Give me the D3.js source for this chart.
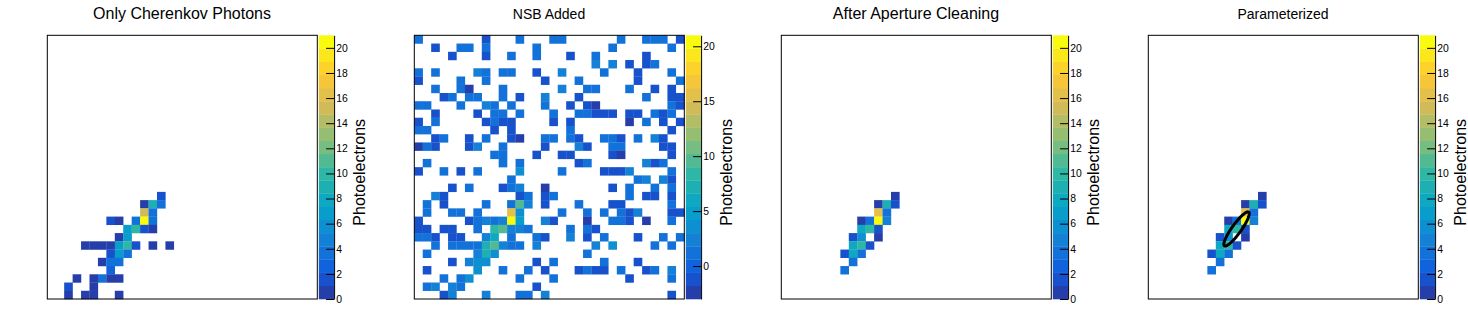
<!DOCTYPE html>
<html><head><meta charset="utf-8">
<script src="https://cdn.jsdelivr.net/npm/d3@7"></script>
<style>html,body{margin:0;background:#fff}svg{display:block}text{font-family:"Liberation Sans",Arial,sans-serif;fill:#000}</style>
</head><body><svg id="c" width="1468" height="336"></svg>
<script>
const birdStops = ["#352a87","#0f5cdd","#1481d6","#06a4ca","#2eb7a4","#87bf77","#d1bb59","#fec832","#f9fb0e"];
const nBands = 20;
const gridSize = 32;
const panelLefts = [47, 414, 781, 1148];
const titles = ["Only Cherenkov Photons","NSB Added","After Aperture Cleaning","Parameterized"];
const titleSizes = [16,14,16,14];
const domains = [[0,21],[-3,21],[0,21],[0,21]];
const tickSets = [[0,2,4,6,8,10,12,14,16,18,20],[0,5,10,15,20],[0,2,4,6,8,10,12,14,16,18,20],[0,2,4,6,8,10,12,14,16,18,20]];
const colorbarTitle = "Photoelectrons";
// [column, row from top, photoelectrons]
const cherenkovCells = [
[13,19,2],[11,20,1],[12,20,9],[13,20,4],[11,21,15.5],[12,21,4],
[7,22,2],[8,22,1],[10,22,4],[11,22,21],[12,22,4],
[9,23,7],[10,23,10],[11,23,2],[12,23,1],[8,24,1],[9,24,7],
[4,25,1],[5,25,1],[6,25,1],[7,25,1],[8,25,7],[9,25,10],[10,25,2],[12,25,1],[14,25,1],
[7,26,2],[8,26,7],[9,26,4],[6,27,1],[7,27,4],[8,27,4],[7,28,3],
[3,29,1],[5,29,1],[6,29,4],[7,29,1],[8,29,1],[2,30,2],[5,30,1],
[2,31,1],[4,31,1],[5,31,1],[8,31,1]];
const nsbCells = [
[0,0,1],[8,0,-1],[12,0,1],[16,0,1],[17,0,1],[24,0,1],[27,0,1],[28,0,1],[29,0,1],[31,0,-1],
[2,1,-1],[5,1,1],[6,1,1],[8,1,1],[14,1,1],[23,1,1],[30,1,1],
[4,2,-1],[8,2,-1],[11,2,1],[14,2,1],[18,2,-1],[21,2,1],[27,2,-1],
[21,3,2],[23,3,2],[25,3,-1],[27,3,-1],[28,3,1],
[0,4,1],[2,4,1],[7,4,2],[8,4,1],[10,4,1],[11,4,1],[14,4,-1],[17,4,2],[22,4,1],[26,4,-1],[30,4,1],
[0,5,-1],[5,5,1],[8,5,1],[15,5,-1],[19,5,1],[26,5,-1],[31,5,1],
[2,6,1],[5,6,1],[6,6,-2.5],[10,6,1],[17,6,2],[20,6,1],[21,6,1],[25,6,1],[28,6,-1],[30,6,-1],
[3,7,-1],[4,7,1],[6,7,1],[7,7,1],[10,7,1],[12,7,-1],[15,7,2],[19,7,-1],[27,7,1],[30,7,-1],[31,7,-1],
[0,8,1],[1,8,1],[5,8,1],[8,8,2],[9,8,1],[11,8,1],[15,8,1],[18,8,-1],[20,8,-1],[21,8,-2.5],[30,8,1],[31,8,-1],
[2,9,-1],[7,9,-1],[9,9,1],[10,9,1],[12,9,1],[16,9,1],[19,9,1],[20,9,1],[21,9,-1],[22,9,-1],[23,9,-1],[25,9,-1],[26,9,-1],[28,9,1],[29,9,-1],[30,9,1],
[0,10,-1],[2,10,1],[8,10,-1],[9,10,1],[10,10,-1],[11,10,-1],[16,10,-1],[18,10,-1],[25,10,-2.5],[27,10,1],[29,10,-1],[31,10,-1],
[0,11,1],[1,11,1],[9,11,-1],[11,11,-1],[18,11,1],[30,11,-1],
[2,12,-1],[3,12,1],[6,12,-1],[8,12,1],[11,12,-1],[12,12,-2.5],[15,12,1],[16,12,1],[18,12,1],[19,12,-1],[22,12,1],[23,12,1],[24,12,-1],[26,12,1],[28,12,2],[29,12,-1],
[0,13,-2.5],[1,13,1],[2,13,-1],[6,13,-1],[7,13,2],[10,13,1],[15,13,-1],[19,13,2],[20,13,-1],[23,13,1],[24,13,1],[29,13,-1],[30,13,-1],
[9,14,1],[10,14,1],[14,14,-1],[17,14,-1],[18,14,-1],[23,14,-1],[24,14,-2.5],[30,14,-1],
[1,15,1],[10,15,1],[12,15,1],[19,15,-1],[20,15,1],[27,15,2],[28,15,-1],[29,15,1],
[0,16,-1],[3,16,1],[5,16,-1],[7,16,1],[12,16,3],[17,16,1],[22,16,-1],[23,16,-1],[24,16,-1],[25,16,2],[30,16,1],
[11,17,1],[26,17,1],[27,17,2],[29,17,2],[30,17,-1],
[4,18,-1],[6,18,1],[10,18,-1],[11,18,1],[12,18,2],[15,18,-2.5],[23,18,-1],[25,18,1],[28,18,1],[30,18,1],
[2,19,2],[3,19,-1],[12,19,-1],[13,19,1],[15,19,-1],[16,19,1],[25,19,1],[27,19,-1],[28,19,-1],[30,19,-1],
[1,20,1],[3,20,-1],[8,20,1],[11,20,1],[12,20,9.6],[13,20,2],[15,20,-1],[19,20,1],[23,20,-1],[24,20,-1],[30,20,1],
[1,21,1],[4,21,1],[5,21,1],[7,21,1],[11,21,15.6],[12,21,3.6],[17,21,1],[20,21,1],[22,21,1],[24,21,1],[25,21,-1],[26,21,2],[30,21,-1],[31,21,-1],
[0,22,-1],[6,22,-1],[7,22,1],[8,22,2],[9,22,1],[10,22,2.4],[11,22,21],[12,22,5],[15,22,2],[16,22,-1],[20,22,-2.5],[23,22,1],[24,22,1],[25,22,-1],[27,22,-2.5],[30,22,1],
[0,23,-1],[1,23,-1],[3,23,-1],[4,23,-1],[7,23,1],[9,23,8.4],[10,23,9.6],[11,23,2],[12,23,2],[13,23,1],[18,23,1],[20,23,1],[21,23,-1],
[0,24,1],[1,24,1],[2,24,-1],[4,24,-1],[5,24,-1],[8,24,2],[9,24,6],[11,24,1],[14,24,1],[15,24,-1],[18,24,2],[20,24,-1],[22,24,1],[26,24,-1],[29,24,1],[31,24,1],
[2,25,1],[4,25,1],[5,25,1],[6,25,1],[7,25,1],[8,25,7.2],[9,25,9.6],[10,25,2],[11,25,1],[12,25,1],[14,25,2],[21,25,2],[23,25,3],[28,25,1],[30,25,1],
[1,26,1],[7,26,2],[8,26,7.2],[9,26,3.6],[20,26,1],
[4,27,-1],[6,27,2],[7,27,3.6],[8,27,3.6],[14,27,-1],[16,27,1],[22,27,1],[26,27,-1],
[1,28,-1],[7,28,3.6],[10,28,1],[13,28,1],[15,28,-1],[19,28,-1],[20,28,1],[21,28,-1],[22,28,-1],[24,28,1],[27,28,-1],[28,28,1],[30,28,2],
[3,29,1],[5,29,1],[6,29,3.6],[12,29,1],[16,29,1],[25,29,-1],[30,29,1],
[1,30,1],[2,30,2],[4,30,2],[5,30,1],[14,30,-1],
[3,31,-1],[4,31,2],[8,31,2],[12,31,1],[13,31,1],[15,31,2],[30,31,-1]];
const cleanedCells = [
[13,19,1],[11,20,1],[12,20,9],[13,20,2],[11,21,16.5],[12,21,4],
[9,22,1],[10,22,3.5],[11,22,21],[12,22,5],[9,23,8],[10,23,10],[11,23,2],
[8,24,2],[9,24,6],[11,24,1],[8,25,8],[9,25,10],[10,25,2],
[7,26,2],[8,26,8],[9,26,4],[8,27,3.5],[7,28,4]];
const panelCells = [cherenkovCells, nsbCells, cleanedCells, cleanedCells];
// Hillas ellipse in grid units
const ellipseCentre = [10.46, 23.5], ellipseSemi = [2.5, 0.55], ellipseAngleDeg = -55;

const frameW = 270, frameTop = 35.3, frameH = 263.7;
const barGap = 1.5, barW = 15.3;
const svg = d3.select("#c");
const birdInterp = d3.piecewise(d3.interpolateRgb, birdStops);
const bandColors = d3.range(nBands).map(i => birdInterp((i+1)/nBands));

panelLefts.forEach((left, p) => {
  const g = svg.append("g").attr("transform", `translate(${left+0.3},${frameTop})`);
  const x = d3.scaleLinear().domain([0,gridSize]).range([0,frameW]);
  const y = d3.scaleLinear().domain([0,gridSize]).range([0,frameH]);
  const color = d3.scaleQuantize().domain(domains[p]).range(bandColors);
  g.selectAll("rect.cell").data(panelCells[p]).join("rect").attr("class","cell")
    .attr("x",d=>x(d[0])).attr("y",d=>y(d[1]))
    .attr("width",x(1)-x(0)+.2).attr("height",y(1)-y(0)+.2)
    .attr("fill",d=>color(d[2]));
  g.append("rect").attr("width",frameW).attr("height",frameH).attr("fill","none").attr("stroke","#000").attr("stroke-width",1);
  // colour bar
  const barX = frameW+barGap;
  const cb = d3.scaleLinear().domain(domains[p]).range([frameH,0]);
  const step = (domains[p][1]-domains[p][0])/nBands;
  g.selectAll("rect.band").data(bandColors).join("rect").attr("class","band")
    .attr("x",barX).attr("width",barW)
    .attr("y",(c,i)=>cb(domains[p][0]+(i+1)*step)).attr("height",frameH/nBands+.3)
    .attr("fill",c=>c);
  const axis = d3.axisRight(cb).tickValues(tickSets[p]).tickSize(-8).tickSizeOuter(0).tickPadding(2.2);
  const ax = g.append("g").attr("transform",`translate(${barX+barW},0)`).call(axis);
  ax.selectAll("text").attr("font-size",10.4).attr("font-family","Liberation Sans").attr("fill","#000").attr("text-anchor","start");
  ax.selectAll("line,path").attr("stroke","#000").attr("stroke-width",1);
  g.append("text").text(colorbarTitle).attr("font-size",16)
    .attr("transform",`translate(${frameW+47.7},${137}) rotate(-90)`).attr("text-anchor","middle");
  svg.append("text").text(titles[p]).attr("font-size",titleSizes[p]).attr("text-anchor","middle")
    .attr("x",left+135).attr("y",19);
  if(p===3){
    const th = ellipseAngleDeg*Math.PI/180;
    const line = d3.line().x(d=>x(d[0])).y(d=>y(d[1])).curve(d3.curveLinearClosed);
    const pts = d3.range(0,360,5).map(a=>{
      const t=a*Math.PI/180, u=ellipseSemi[0]*Math.cos(t), v=ellipseSemi[1]*Math.sin(t);
      return [ellipseCentre[0]+u*Math.cos(th)-v*Math.sin(th), ellipseCentre[1]+u*Math.sin(th)+v*Math.cos(th)];
    });
    g.append("path").attr("d",line(pts)).attr("fill","none").attr("stroke","#000").attr("stroke-width",3);
  }
});
</script></body></html>
